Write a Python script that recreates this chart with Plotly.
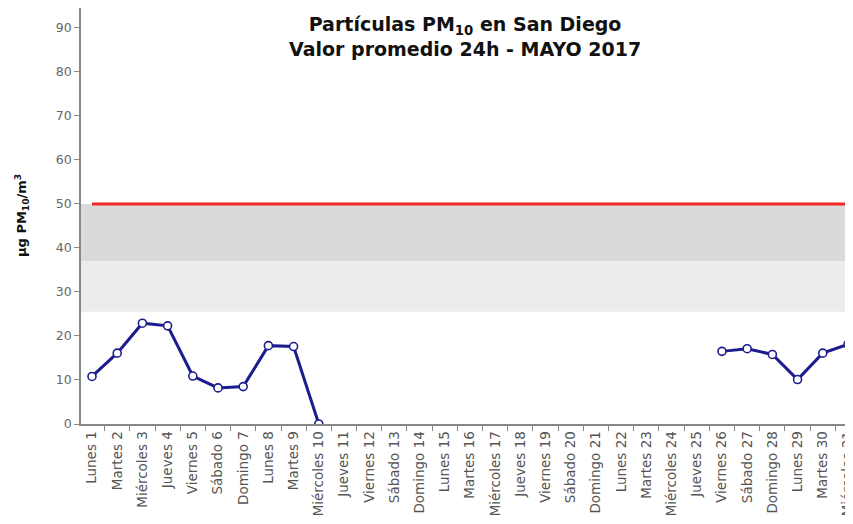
import plotly.graph_objects as go

days = ["Lunes 1", "Martes 2", "Miércoles 3", "Jueves 4", "Viernes 5", "Sábado 6", "Domingo 7",
        "Lunes 8", "Martes 9", "Miércoles 10", "Jueves 11", "Viernes 12", "Sábado 13", "Domingo 14",
        "Lunes 15", "Martes 16", "Miércoles 17", "Jueves 18", "Viernes 19", "Sábado 20", "Domingo 21",
        "Lunes 22", "Martes 23", "Miércoles 24", "Jueves 25", "Viernes 26", "Sábado 27", "Domingo 28",
        "Lunes 29", "Martes 30", "Miércoles 31"]

pm10 = [10.8, 16.1, 22.9, 22.3, 10.9, 8.2, 8.5, 17.8, 17.6, 0,
        None, None, None, None, None, None, None, None, None, None,
        None, None, None, None, None,
        16.5, 17.1, 15.8, 10.1, 16.1, 18.1]

norma = [50] * len(days)
band_low = [25.5, 37]
band_high = [37, 50]
y_ticks = [0, 10, 20, 30, 40, 50, 60, 70, 80, 90]

FONT = "DejaVu Sans"

fig = go.Figure()

fig.add_shape(type="rect", xref="paper", yref="y", x0=0, x1=1, y0=band_low[0], y1=band_low[1],
              fillcolor="#ececec", line_width=0, layer="below")
fig.add_shape(type="rect", xref="paper", yref="y", x0=0, x1=1, y0=band_high[0], y1=band_high[1],
              fillcolor="#dadada", line_width=0, layer="below")

fig.add_trace(go.Scatter(x=days, y=norma, mode="lines",
                         line=dict(color="#f02828", width=3), hoverinfo="skip", showlegend=False))

fig.add_trace(go.Scatter(x=days, y=pm10, mode="lines+markers", connectgaps=False,
                         line=dict(color="#1c1c8e", width=3),
                         marker=dict(size=8, color="white", line=dict(color="#1c1c8e", width=1.6)),
                         showlegend=False))

fig.add_annotation(xref="paper", yref="paper", x=0.497, y=0.993, xanchor="center", yanchor="top",
                   text="<b>Partículas PM<sub>10</sub> en San Diego<br>Valor promedio 24h - MAYO 2017</b>",
                   showarrow=False, font=dict(family=FONT, size=19, color="#111111"), align="center")

fig.add_annotation(xref="paper", yref="paper", x=-0.0764, y=0.5, xanchor="center", yanchor="middle",
                   text="<b>µg PM<sub>10</sub>/m<sup>3</sup></b>", textangle=-90,
                   showarrow=False, font=dict(family=FONT, size=13, color="#111111"))

fig.update_layout(
    width=845, height=516,
    margin=dict(l=73, r=0, t=0, b=100),
    paper_bgcolor="white", plot_bgcolor="white",
    font=dict(family=FONT),
    xaxis=dict(type="category", range=[-0.437, 30.2], tickangle=-90, tickson="boundaries",
               ticks="outside", ticklen=5, tickcolor="#888888", showgrid=False, automargin=False,
               showline=True, linecolor="#888888", linewidth=1.5, zeroline=False,
               tickfont=dict(family=FONT, size=13.5, color="#555555")),
    yaxis=dict(range=[0, 94.5], tickvals=y_ticks, ticks="outside", ticklen=5, tickcolor="#888888",
               showgrid=False, showline=True, linecolor="#888888", linewidth=1.5, zeroline=False,
               automargin=False,
               tickfont=dict(family=FONT, size=12.5, color="#666666")),
)

fig.write_html("out.html")
